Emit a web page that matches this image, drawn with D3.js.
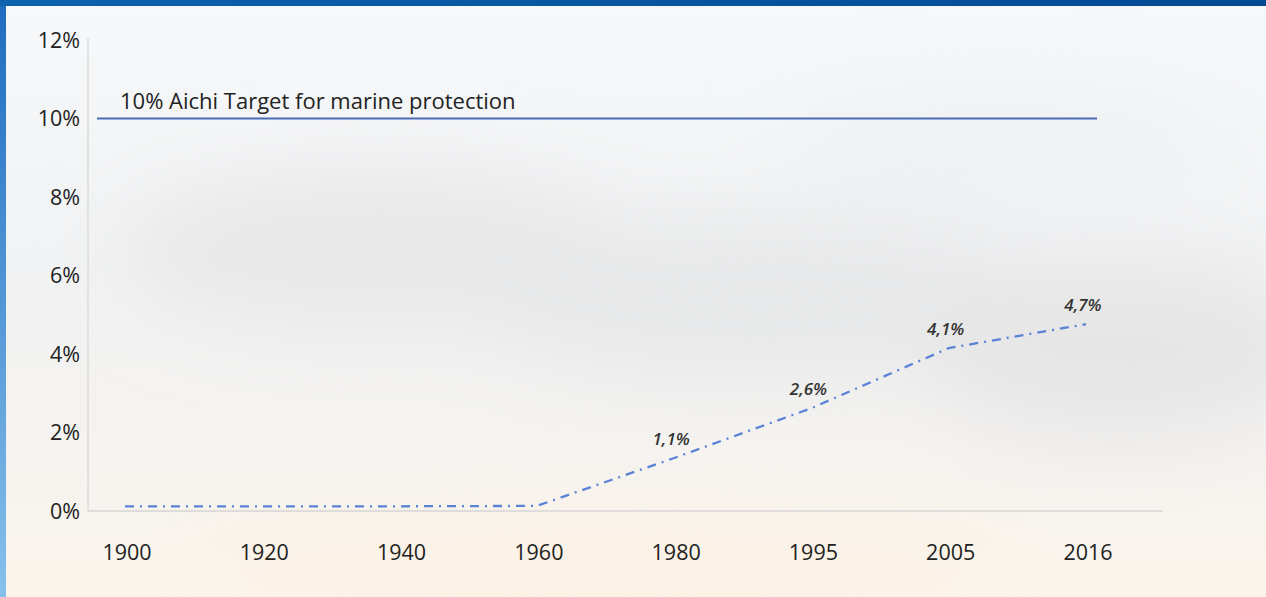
<!DOCTYPE html>
<html>
<head>
<meta charset="utf-8">
<script src="https://cdn.jsdelivr.net/npm/d3@7"></script>
<style>
	html, body { margin: 0; padding: 0; overflow: hidden; }
	svg { display: block; font-family: "Open Sans", "Noto Sans", sans-serif; }
</style>
</head>
<body>
<svg id="chart" width="1266" height="597"></svg>
<script>
const YEARS = ["1900", "1920", "1940", "1960", "1980", "1995", "2005", "2016"];
const COVERAGE = [0.12, 0.12, 0.12, 0.13, 1.35, 2.62, 4.15, 4.76];
const POINT_LABELS = [null, null, null, null, "1,1%", "2,6%", "4,1%", "4,7%"];
const Y_TICKS = [0, 2, 4, 6, 8, 10, 12];
const TARGET = 10;
const TARGET_LABEL = "10% Aichi Target for marine protection";

const LINE_COLOR = "#5a82d6";
const TARGET_COLOR = "#4a6cb8";
const AXIS_COLOR = "#d6d6d6";
const TEXT_COLOR = "#222";

const svg = d3.select("#chart");
const width = +svg.attr("width");
const height = +svg.attr("height");

// BACKGROUND
// ==========
const defs = svg.append("defs");

const sky = defs.append("linearGradient")
	.attr("id", "sky")
	.attr("x1", 0).attr("y1", 0).attr("x2", 0).attr("y2", 1);
sky.append("stop").attr("offset", "0%").attr("stop-color", "#f6f8fa");
sky.append("stop").attr("offset", "45%").attr("stop-color", "#f1f2f3");
sky.append("stop").attr("offset", "80%").attr("stop-color", "#f6f3ef");
sky.append("stop").attr("offset", "100%").attr("stop-color", "#fbf5ec");

const sideGrad = defs.append("linearGradient")
	.attr("id", "side")
	.attr("x1", 0).attr("y1", 0).attr("x2", 0).attr("y2", 1);
sideGrad.append("stop").attr("offset", "0%").attr("stop-color", "#1e6cc0");
sideGrad.append("stop").attr("offset", "100%").attr("stop-color", "#86c1ec");

const bandGrad = defs.append("linearGradient")
	.attr("id", "topband")
	.attr("x1", 0).attr("y1", 0).attr("x2", 1).attr("y2", 0);
bandGrad.append("stop").attr("offset", "0%").attr("stop-color", "#0d62ae");
bandGrad.append("stop").attr("offset", "100%").attr("stop-color", "#024a92");

defs.append("filter")
	.attr("id", "blur")
	.attr("x", "-50%").attr("y", "-50%").attr("width", "200%").attr("height", "200%")
	.append("feGaussianBlur").attr("stdDeviation", 40);

svg.append("rect")
	.attr("width", width)
	.attr("height", height)
	.attr("fill", "url(#sky)");

const clouds = [
	{ cx: 380, cy: 250, rx: 260, ry: 80, c: "#e8e8e9" },
	{ cx: 760, cy: 300, rx: 300, ry: 80, c: "#e7e8e9" },
	{ cx: 1120, cy: 350, rx: 200, ry: 90, c: "#e6e6e7" },
	{ cx: 1000, cy: 150, rx: 220, ry: 50, c: "#eef0f2" },
	{ cx: 600, cy: 570, rx: 420, ry: 40, c: "#fcf1e3" },
];
svg.append("g")
	.attr("filter", "url(#blur)")
	.selectAll("ellipse")
	.data(clouds)
	.join("ellipse")
	.attr("cx", d => d.cx)
	.attr("cy", d => d.cy)
	.attr("rx", d => d.rx)
	.attr("ry", d => d.ry)
	.attr("fill", d => d.c);

svg.append("rect").attr("x", 0).attr("y", 0).attr("width", 6).attr("height", height).attr("fill", "url(#side)");
svg.append("rect").attr("x", 0).attr("y", 0).attr("width", width).attr("height", 6).attr("fill", "url(#topband)");

// SCALES
// ======
const xScale = d3.scalePoint()
	.domain(YEARS)
	.range([125, 1086]);

const yScale = d3.scaleLinear()
	.domain([0, 12])
	.range([511, 40]);

// AXES
// ====
svg.append("line")
	.attr("x1", 88).attr("x2", 88)
	.attr("y1", yScale(12) - 2).attr("y2", yScale(0))
	.attr("stroke", AXIS_COLOR)
	.attr("stroke-width", 1.2);

svg.append("line")
	.attr("x1", 88).attr("x2", 1163)
	.attr("y1", yScale(0)).attr("y2", yScale(0))
	.attr("stroke", AXIS_COLOR)
	.attr("stroke-width", 1.5);

svg.append("g")
	.selectAll("text")
	.data(Y_TICKS)
	.join("text")
	.attr("x", 80)
	.attr("y", d => yScale(d))
	.attr("dy", "0.35em")
	.attr("text-anchor", "end")
	.attr("font-size", 21.5)
	.attr("fill", TEXT_COLOR)
	.text(d => d + "%");

svg.append("g")
	.selectAll("text")
	.data(YEARS)
	.join("text")
	.attr("x", d => xScale(d) + 2)
	.attr("y", 552)
	.attr("dy", "0.35em")
	.attr("text-anchor", "middle")
	.attr("font-size", 21.5)
	.attr("fill", TEXT_COLOR)
	.text(d => d);

// TARGET LINE
// ===========
svg.append("line")
	.attr("x1", 97).attr("x2", 1097)
	.attr("y1", yScale(TARGET)).attr("y2", yScale(TARGET))
	.attr("stroke", TARGET_COLOR)
	.attr("stroke-width", 2);

svg.append("text")
	.attr("x", 120)
	.attr("y", yScale(TARGET) - 17)
	.attr("dy", "0.35em")
	.attr("font-size", 22)
	.attr("fill", TEXT_COLOR)
	.text(TARGET_LABEL);

// SERIES
// ======
const data = YEARS.map((year, i) => ({ year: year, value: COVERAGE[i], label: POINT_LABELS[i] }));

const line = d3.line()
	.x(d => xScale(d.year))
	.y(d => yScale(d.value));

svg.append("path")
	.datum(data)
	.attr("fill", "none")
	.attr("stroke", LINE_COLOR)
	.attr("stroke-width", 2.3)
	.attr("stroke-dasharray", "9,6,2,6")
	.attr("d", line);

svg.append("g")
	.selectAll("text")
	.data(data.filter(d => d.label))
	.join("text")
	.attr("x", d => xScale(d.year) - 3)
	.attr("y", d => yScale(d.value) - 19)
	.attr("dy", "0.35em")
	.attr("text-anchor", "middle")
	.attr("font-size", 17)
	.attr("font-style", "italic")
	.attr("font-weight", 600)
	.attr("fill", "#333")
	.text(d => d.label);
</script>
</body>
</html>
